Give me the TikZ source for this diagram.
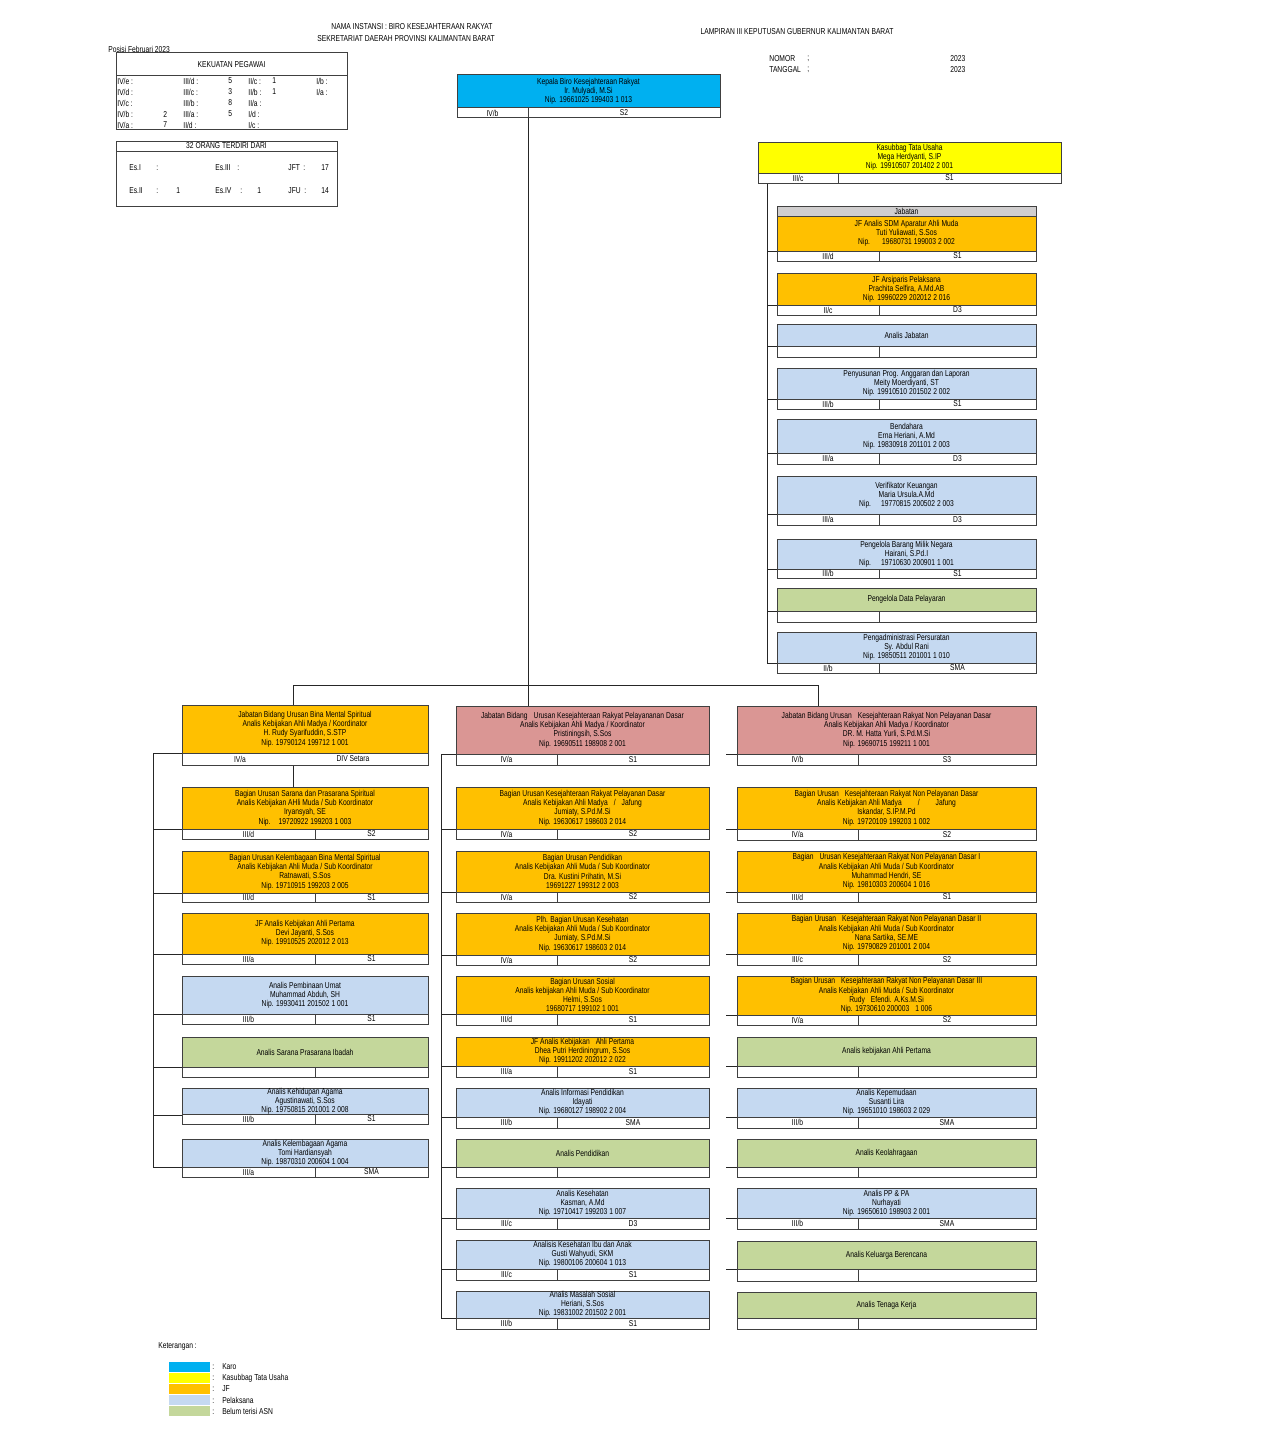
\documentclass[tikz,border=0pt]{standalone}
\usepackage{fontspec}
\setmainfont{Liberation Sans}[FakeStretch=0.78]
\usetikzlibrary{positioning, calc}

\definecolor{karo}{HTML}{00B0F0}
\definecolor{kasub}{HTML}{FFFF00}
\definecolor{jf}{HTML}{FFC000}
\definecolor{pelaksana}{HTML}{C5D9F1}
\definecolor{belum}{HTML}{C4D79B}
\definecolor{bidang}{HTML}{DA9694}
\definecolor{jabgray}{HTML}{D0CECE}
\definecolor{boxline}{HTML}{404040}

\tikzset{
    x=0.5pt,
    y=-0.5pt,
    font=\fontsize{4.3}{4.6}\selectfont,
    org_box/.style={
        rectangle,
        draw=boxline,
        line width=0.5pt,
        inner sep=0pt,
        align=center
    },
    org_karo/.style={org_box, fill=karo},
    org_kasub/.style={org_box, fill=kasub},
    org_jf/.style={org_box, fill=jf},
    org_pelaksana/.style={org_box, fill=pelaksana},
    org_belum/.style={org_box, fill=belum},
    org_bidang/.style={org_box, fill=bidang},
    org_cell/.style={
        rectangle,
        draw=boxline,
        line width=0.5pt,
        fill=white,
        inner sep=0pt
    },
    org_line/.style={
        draw=black!85,
        line width=0.45pt
    },
    tbl_text/.style={
        anchor=west,
        inner sep=0pt
    },
    legend_swatch/.style={
        rectangle,
        inner sep=0pt,
        minimum width=20.5pt,
        minimum height=5pt
    }
}

% column: left x, right x, divider x
\newcommand{\setcolumn}[3]{\def\colxa{#1}\def\colxb{#2}\def\colxd{#3}}
% box: name, style, top y, fill bottom y, row bottom y, text, left cell, right cell
\newcommand{\orgbox}[8]{
    \node[#2, minimum width={(\colxb-\colxa)*0.5pt}, minimum height={(#4-#3)*0.5pt}] (#1) at ({(\colxa+\colxb)/2},{(#3+#4)/2}) {#6};
    \node[org_cell, minimum width={(\colxd-\colxa)*0.5pt}, minimum height={(#5-#4)*0.5pt}] (#1-l) at ({(\colxa+\colxd)/2},{(#4+#5)/2}) {#7};
    \node[org_cell, minimum width={(\colxb-\colxd)*0.5pt}, minimum height={(#5-#4)*0.5pt}] (#1-r) at ({(\colxd+\colxb)/2},{(#4+#5)/2}) {#8};
}

\begin{document}
\begin{tikzpicture}

\useasboundingbox[fill=white] (0,0) rectangle (1275,1434);

% --- Header ---
\node (instansi) at (412,27) {NAMA INSTANSI : BIRO KESEJAHTERAAN RAKYAT};
\node (sekretariat) at (406,39) {SEKRETARIAT DAERAH PROVINSI KALIMANTAN BARAT};
\node[tbl_text] (posisi) at (108,49) {Posisi Februari 2023};
\node (lampiran) at (797,32) {LAMPIRAN III KEPUTUSAN GUBERNUR KALIMANTAN BARAT};
\node[tbl_text] (nomor) at (769,59) {NOMOR};
\node[tbl_text] (nomorSep) at (807,59) {;};
\node[tbl_text] (nomorYear) at (950,59) {2023};
\node[tbl_text] (tanggal) at (769,70) {TANGGAL};
\node[tbl_text] (tanggalSep) at (807,70) {;};
\node[tbl_text] (tanggalYear) at (950,70) {2023};

% --- Kekuatan pegawai ---
\node[org_box, minimum width={231*0.5pt}, minimum height={23*0.5pt}] (kekuatanHead) at (231.5,64.5) {KEKUATAN PEGAWAI};
\node[org_box, minimum width={231*0.5pt}, minimum height={54*0.5pt}] (kekuatanBody) at (231.5,103) {};
\foreach \lab/\val [count=\r from 0] in {{IV/e}/{}, {IV/d}/{}, {IV/c}/{}, {IV/b}/2, {IV/a}/7} {
    \node[tbl_text] (kpA\r) at (117,{81+11*\r}) {\lab\ :};
    \node[tbl_text] (kvA\r) at (163,{81+11*\r}) {\val};
}
\foreach \lab/\val [count=\r from 0] in {{III/d}/5, {III/c}/3, {III/b}/8, {III/a}/5, {II/d}/{}} {
    \node[tbl_text] (kpB\r) at (183,{81+11*\r}) {\lab\ :};
    \node[tbl_text] (kvB\r) at (228,{81+11*\r}) {\val};
}
\foreach \lab/\val [count=\r from 0] in {{II/c}/1, {II/b}/1, {II/a}/{}, {I/d}/{}, {I/c}/{}} {
    \node[tbl_text] (kpC\r) at (248,{81+11*\r}) {\lab\ :};
    \node[tbl_text] (kvC\r) at (272,{81+11*\r}) {\val};
}
\foreach \lab [count=\r from 0] in {{I/b}, {I/a}} {
    \node[tbl_text] (kpD\r) at (316,{81+11*\r}) {\lab\ :};
}

% --- 32 orang ---
\node[org_box, minimum width={221*0.5pt}, minimum height={10*0.5pt}] (orangHead) at (226.5,146) {32 ORANG TERDIRI DARI};
\node[org_box, minimum width={221*0.5pt}, minimum height={55*0.5pt}] (orangBody) at (226.5,178.5) {};
\node[tbl_text] (es1) at (129,168) {Es.I};
\node[tbl_text] (es1s) at (156,168) {:};
\node[tbl_text] (es3) at (215,168) {Es.III};
\node[tbl_text] (es3s) at (237,168) {:};
\node[tbl_text] (jft) at (288,168) {JFT};
\node[tbl_text] (jfts) at (303,168) {:};
\node[tbl_text] (jftv) at (321,168) {17};
\node[tbl_text] (es2) at (129,191) {Es.II};
\node[tbl_text] (es2s) at (156,191) {:};
\node[tbl_text] (es2v) at (176,191) {1};
\node[tbl_text] (es4) at (215,191) {Es.IV};
\node[tbl_text] (es4s) at (240,191) {:};
\node[tbl_text] (es4v) at (257,191) {1};
\node[tbl_text] (jfu) at (288,191) {JFU};
\node[tbl_text] (jfus) at (304,191) {:};
\node[tbl_text] (jfuv) at (321,191) {14};

% --- Kepala & Kasubbag ---
\setcolumn{457}{720}{528}
\orgbox{kepala}{org_karo}{75}{108}{118}{Kepala Biro Kesejahteraan Rakyat\\Ir. Mulyadi, M.Si\\Nip. 19661025 199403 1 013}{IV/b}{S2}
\setcolumn{758}{1061}{838}
\orgbox{kasubbag}{org_kasub}{142}{173}{183}{Kasubbag Tata Usaha\\Mega Herdyanti, S.IP\\Nip. 19910507 201402 2 001}{III/c}{S1}

% --- Tata usaha column ---
\setcolumn{777}{1036}{879}
\node[org_box, fill=jabgray, minimum width={259*0.5pt}, minimum height={10*0.5pt}] (jabHead) at (906.5,211) {Jabatan};
\orgbox{tu1}{org_jf}{216}{251}{261}{JF Analis SDM Aparatur Ahli Muda\\Tuti Yuliawati, S.Sos\\Nip.\hspace{6pt}19680731 199003 2 002}{III/d}{S1}
\orgbox{tu2}{org_jf}{273}{305}{315}{JF Arsiparis Pelaksana\\Prachita Selfira, A.Md.AB\\Nip. 19960229 202012 2 016}{II/c}{D3}
\orgbox{tu3}{org_pelaksana}{324}{346}{357}{Analis Jabatan}{}{}
\orgbox{tu4}{org_pelaksana}{368}{399}{409}{Penyusunan Prog. Anggaran dan Laporan\\Meity Moerdiyanti, ST\\Nip. 19910510 201502 2 002}{III/b}{S1}
\orgbox{tu5}{org_pelaksana}{419}{453}{464}{Bendahara\\Erna Heriani, A.Md\\Nip. 19830918 201101 2 003}{III/a}{D3}
\orgbox{tu6}{org_pelaksana}{476}{514}{525}{Verifikator Keuangan\\Maria Ursula.A.Md\\Nip.\hspace{5pt}19770815 200502 2 003}{III/a}{D3}
\orgbox{tu7}{org_pelaksana}{539}{569}{578}{Pengelola Barang Milik Negara\\Hairani, S.Pd.I\\Nip.\hspace{5pt}19710630 200901 1 001}{III/b}{S1}
\orgbox{tu8}{org_belum}{588}{611}{622}{Pengelola Data Pelayaran}{}{}
\orgbox{tu9}{org_pelaksana}{632}{663}{673}{Pengadministrasi Persuratan\\Sy. Abdul Rani\\Nip. 19850511 201001 1 010}{II/b}{SMA}

% --- Bidang heads ---
\setcolumn{182}{428}{315}
\node[org_jf, minimum width={246*0.5pt}, minimum height={48*0.5pt}] (bidL) at (305,729) {Jabatan Bidang Urusan Bina Mental Spiritual\\Analis Kebijakan Ahli Madya / Koordinator\\H. Rudy Syarifuddin, S.STP\\Nip. 19790124 199712 1 001};
\node[org_cell, minimum width={246*0.5pt}, minimum height={12*0.5pt}] (bidL-row) at (305,759) {};
\node (bidL-l) at (240,759) {IV/a};
\node (bidL-r) at (353,759) {DIV Setara};
\orgbox{L1}{org_jf}{787}{829}{839}{Bagian Urusan Sarana dan Prasarana Spiritual\\Analis Kebijakan AHli Muda / Sub Koordinator\\Iryansyah, SE\\Nip.\hspace{4pt}19720922 199203 1 003}{III/d}{S2}
\orgbox{L2}{org_jf}{851}{893}{902}{Bagian Urusan Kelembagaan Bina Mental Spiritual\\Analis Kebijakan Ahli Muda / Sub Koordinator\\Ratnawati, S.Sos\\Nip. 19710915 199203 2 005}{III/d}{S1}
\orgbox{L3}{org_jf}{913}{954}{964}{JF Analis Kebijakan Ahli Pertama\\Devi Jayanti, S.Sos\\Nip. 19910525 202012 2 013}{III/a}{S1}
\orgbox{L4}{org_pelaksana}{976}{1014}{1024}{Analis Pembinaan Umat\\Muhammad Abduh, SH\\Nip. 19930411 201502 1 001}{III/b}{S1}
\orgbox{L5}{org_belum}{1037}{1067}{1077}{Analis Sarana Prasarana Ibadah}{}{}
\orgbox{L6}{org_pelaksana}{1089}{1114}{1124}{Analis Kehidupan Agama\\Agustinawati, S.Sos\\Nip. 19750815 201001 2 008}{III/b}{S1}
\orgbox{L7}{org_pelaksana}{1139}{1167}{1177}{Analis Kelembagaan Agama\\Tomi Hardiansyah\\Nip. 19870310 200604 1 004}{III/a}{SMA}

\setcolumn{456}{709}{557}
\orgbox{bidM}{org_bidang}{706}{754}{765}{Jabatan Bidang\hspace{3pt}Urusan Kesejahteraan Rakyat Pelayananan Dasar\\Analis Kebijakan Ahli Madya / Koordinator\\Pristiningsih, S.Sos\\Nip. 19690511 198908 2 001}{IV/a}{S1}
\orgbox{M1}{org_jf}{787}{829}{839}{Bagian Urusan Kesejahteraan Rakyat Pelayanan Dasar\\Analis Kebijakan Ahli Madya\hspace{3pt}/\hspace{3pt}Jafung\\Jumiaty, S.Pd.M.Si\\Nip. 19630617 198603 2 014}{IV/a}{S2}
\orgbox{M2}{org_jf}{851}{892}{902}{Bagian Urusan Pendidikan\\Analis Kebijakan Ahli Muda / Sub Koordinator\\Dra. Kustini Prihatin, M.Si\\19691227 199312 2 003}{IV/a}{S2}
\orgbox{M3}{org_jf}{913}{955}{965}{Plh. Bagian Urusan Kesehatan\\Analis Kebijakan Ahli Muda / Sub Koordinator\\Jumiaty, S.Pd.M.Si\\Nip. 19630617 198603 2 014}{IV/a}{S2}
\orgbox{M4}{org_jf}{976}{1014}{1025}{Bagian Urusan Sosial\\Analis kebijakan Ahli Muda / Sub Koordinator\\Helmi, S.Sos\\19680717 199102 1 001}{III/d}{S1}
\orgbox{M5}{org_jf}{1037}{1066}{1077}{JF Analis Kebijakan\hspace{3pt}Ahli Pertama\\Dhea Putri Herdiningrum, S.Sos\\Nip. 19911202 202012 2 022}{III/a}{S1}
\orgbox{M6}{org_pelaksana}{1088}{1117}{1128}{Analis Informasi Pendidikan\\Idayati\\Nip. 19680127 198902 2 004}{III/b}{SMA}
\orgbox{M7}{org_belum}{1139}{1167}{1177}{Analis Pendidikan}{}{}
\orgbox{M8}{org_pelaksana}{1188}{1218}{1229}{Analis Kesehatan\\Kasman, A.Md\\Nip. 19710417 199203 1 007}{III/c}{D3}
\orgbox{M9}{org_pelaksana}{1240}{1269}{1280}{Analisis Kesehatan Ibu dan Anak\\Gusti Wahyudi, SKM\\Nip. 19800106 200604 1 013}{III/c}{S1}
\orgbox{M10}{org_pelaksana}{1291}{1318}{1329}{Analis Masalah Sosial\\Heriani, S.Sos\\Nip. 19831002 201502 2 001}{III/b}{S1}

\setcolumn{737}{1036}{858}
\orgbox{bidR}{org_bidang}{706}{754}{765}{Jabatan Bidang Urusan\hspace{3pt}Kesejahteraan Rakyat Non Pelayanan Dasar\\Analis Kebijakan Ahli Madya / Koordinator\\DR. M. Hatta Yurli, S.Pd.M.Si\\Nip. 19690715 199211 1 001}{IV/b}{S3}
\orgbox{R1}{org_jf}{787}{829}{840}{Bagian Urusan\hspace{3pt}Kesejahteraan Rakyat Non Pelayanan Dasar\\Analis Kebijakan Ahli Madya\hspace{8pt}/\hspace{8pt}Jafung\\Iskandar, S.IP.M.Pd\\Nip. 19720109 199203 1 002}{IV/a}{S2}
\orgbox{R2}{org_jf}{851}{892}{902}{Bagian\hspace{3pt}Urusan Kesejahteraan Rakyat Non Pelayanan Dasar I\\Analis Kebijakan Ahli Muda / Sub Koordinator\\Muhammad Hendri, SE\\Nip. 19810303 200604 1 016}{III/d}{S1}
\orgbox{R3}{org_jf}{913}{954}{965}{Bagian Urusan\hspace{3pt}Kesejahteraan Rakyat Non Pelayanan Dasar II\\Analis Kebijakan Ahli Muda / Sub Koordinator\\Nana Sartika, SE.ME\\Nip. 19790829 201001 2 004}{III/c}{S2}
\orgbox{R4}{org_jf}{976}{1015}{1025}{Bagian Urusan\hspace{3pt}Kesejahteraan Rakyat Non Pelayanan Dasar III\\Analis Kebijakan Ahli Muda / Sub Koordinator\\Rudy\hspace{3pt}Efendi. A.Ks.M.Si\\Nip. 19730610 200003\hspace{3pt}1 006}{IV/a}{S2}
\orgbox{R5}{org_belum}{1037}{1066}{1077}{Analis kebijakan Ahli Pertama}{}{}
\orgbox{R6}{org_pelaksana}{1088}{1117}{1128}{Analis Kepemudaan\\Susanti Lira\\Nip. 19651010 198603 2 029}{III/b}{SMA}
\orgbox{R7}{org_belum}{1139}{1167}{1177}{Analis Keolahragaan}{}{}
\orgbox{R8}{org_pelaksana}{1188}{1218}{1229}{Analis PP \& PA\\Nurhayati\\Nip. 19650610 198903 2 001}{III/b}{SMA}
\orgbox{R9}{org_belum}{1241}{1269}{1281}{Analis Keluarga Berencana}{}{}
\orgbox{R10}{org_belum}{1292}{1318}{1329}{Analis Tenaga Kerja}{}{}

% --- Connectors ---
\coordinate (busL) at (293,685);
\coordinate (busR) at (818,685);
\coordinate (spT) at (767,0);
\coordinate (spL) at (153,0);
\coordinate (spM) at (441,0);
\coordinate (spR) at (726,0);

\draw[org_line] (kepala-l.south east) -- (kepala-l.south east |- bidM.north);
\draw[org_line] (busL) -- (busR);
\draw[org_line] (busL) -- (busL |- bidL.north);
\draw[org_line] (busR) -- (busR |- bidR.north);

\draw[org_line] (spT |- kasubbag-l.south) -- (spT |- tu9.south west) -- (tu9.south west);
\foreach \n in {tu1,tu2,tu3,tu4,tu5,tu6,tu7,tu8}
    \draw[org_line] (spT |- \n.south west) -- (\n.south west);

\draw[org_line] (busL |- bidL-row.south) -- (busL |- L1.north);
\draw[org_line] (bidL.south west) -- (spL |- bidL.south west) -- (spL |- L7.south west) -- (L7.south west);
\foreach \n in {L1,L2,L3,L4,L5,L6}
    \draw[org_line] (spL |- \n.south west) -- (\n.south west);

\draw[org_line] (bidM.south west) -- (spM |- bidM.south west) -- (spM |- M10.south west) -- (M10.south west);
\foreach \n in {M1,M2,M3,M4,M5,M6,M7,M8,M9}
    \draw[org_line] (spM |- \n.south west) -- (\n.south west);

\foreach \n in {bidR,R1,R2,R3,R4,R5,R6,R7,R8,R9}
    \draw[org_line] (spR |- \n.south west) -- (\n.south west);

% --- Legend ---
\node[tbl_text] (keterangan) at (158,1346) {Keterangan :};
\foreach \c/\t [count=\i from 0] in {karo/Karo, kasub/Kasubbag Tata Usaha, jf/JF, pelaksana/Pelaksana, belum/Belum terisi ASN} {
    \node[legend_swatch, fill=\c] (swatch\i) at (189.5,{1367+11*\i}) {};
    \node[tbl_text] (legend\i) at (212,{1367+11*\i}) {:\hspace{4pt}\t};
}

\end{tikzpicture}
\end{document}
